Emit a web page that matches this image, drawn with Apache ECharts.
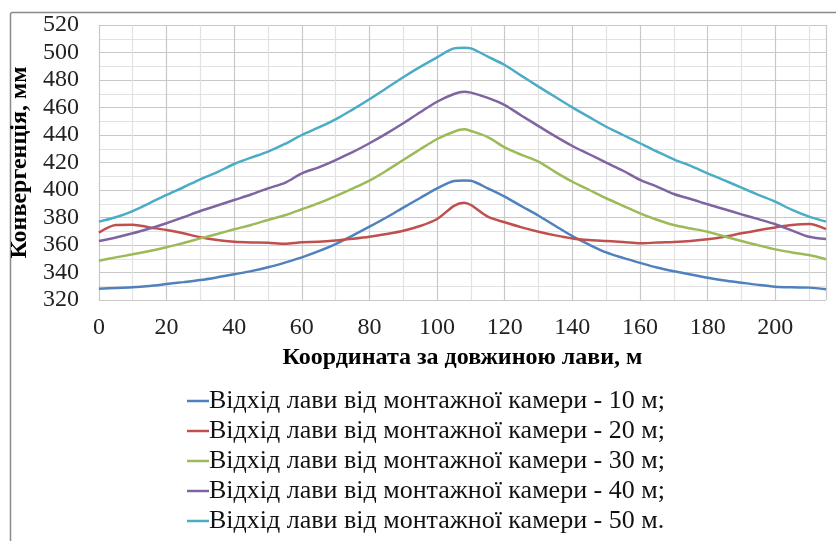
<!DOCTYPE html>
<html>
<head>
<meta charset="utf-8">
<script src="https://cdn.jsdelivr.net/npm/echarts@6/dist/echarts.min.js"></script>
<style>
  html, body { margin: 0; padding: 0; background: #fff; }
  #chart { width: 836px; height: 541px; }
</style>
</head>
<body>
<div id="chart"></div>
<script>
// Position along the face, m
const xCoord = [0, 5, 10, 15, 20, 25, 30, 35, 40, 45, 50, 55, 60, 65, 70, 75, 80, 85, 90, 95, 100, 105, 108, 110, 115, 120, 125, 130, 135, 140, 145, 150, 155, 160, 165, 170, 175, 180, 185, 190, 195, 200, 205, 210, 215];

// Convergence, mm, for each face advance from the set-up room
const conv10 = [328.2, 328.8, 329.2, 330.2, 331.6, 333, 334.5, 336.5, 338.7, 341, 343.8, 347.2, 351, 355.5, 360.7, 366.8, 373.3, 380, 387.2, 394.2, 401.2, 406.6, 407, 406.7, 401.2, 395.2, 388.2, 381.3, 373.8, 366.5, 360.2, 354.6, 350.6, 347, 343.6, 340.9, 338.6, 336.2, 334.2, 332.6, 331, 329.7, 329.2, 329, 327.8];
const conv20 = [369, 374.5, 374.8, 372.8, 370.9, 368.5, 365.6, 363.6, 362.4, 361.9, 361.7, 360.9, 362, 362.3, 363.2, 364.5, 366, 368, 370.4, 373.8, 378.9, 388.5, 390.8, 389.1, 380.6, 376.5, 372.8, 369.7, 367, 364.8, 363.6, 362.9, 362.2, 361.2, 361.8, 362.2, 362.9, 364.1, 366, 368.5, 370.8, 372.8, 374.5, 375.3, 371.6];
const conv30 = [348.6, 351, 353.2, 355.6, 358.3, 361.5, 364.8, 368, 371.4, 374.6, 378.2, 381.6, 386, 390.5, 395.6, 401, 406.8, 414, 421.8, 429.6, 437.1, 442.4, 444.1, 442.9, 438.5, 431, 425.5, 420.6, 413, 406, 400, 394, 388.5, 383, 378.4, 374.5, 372, 369.7, 366.2, 362.9, 359.8, 356.8, 354.6, 352.7, 349.6];
const conv40 = [362.9, 365.5, 368.5, 372, 375.8, 380.2, 384.7, 388.7, 392.7, 396.7, 401.2, 405.2, 412.1, 416.5, 421.8, 427.5, 434, 441, 448.5, 456.5, 464.2, 469.8, 471.5, 470.8, 467, 461.8, 454, 446.5, 439, 432, 426, 419.9, 414, 407.3, 402.5, 397.1, 393.5, 389.6, 386, 382.3, 378.8, 375.1, 370.5, 366, 364.4];
const conv50 = [377, 380.2, 384.7, 390.5, 396.4, 402, 407.8, 413, 418.9, 423.5, 427.9, 433.5, 440, 445.5, 451.4, 458.5, 466, 474, 482, 489.5, 496.5, 503, 503.5, 503, 497, 490.9, 483, 475.2, 467.6, 460.1, 453, 446, 440, 434, 428, 422.3, 417.5, 412.1, 407, 401.7, 396.5, 391.5, 385.5, 380.6, 377];

const seriesNames = [
  'Відхід лави від монтажної камери - 10 м;',
  'Відхід лави від монтажної камери - 20 м;',
  'Відхід лави від монтажної камери - 30 м;',
  'Відхід лави від монтажної камери - 40 м;',
  'Відхід лави від монтажної камери - 50 м.'
];
const seriesValues = [conv10, conv20, conv30, conv40, conv50];
const colors = ['#4F81BD', '#C0504D', '#9BBB59', '#8064A2', '#4BACC6'];

const xAxisTitle = 'Координата за довжиною лави, м';
const yAxisTitle = 'Конвергенція, мм';

const FONT = '"Liberation Serif", "Times New Roman", serif';

const chart = echarts.init(document.getElementById('chart'), null, { renderer: 'canvas' });

chart.setOption({
  animation: false,
  backgroundColor: '#fff',
  color: colors,
  graphic: [{
    type: 'rect',
    left: 8, top: 10,
    shape: { width: 900, height: 600, r: 2 },
    style: { fill: 'none', stroke: '#8a8a8a', lineWidth: 1.5 },
    silent: true
  }],
  grid: { left: 96, top: 25, right: 10, bottom: 241, containLabel: false },
  xAxis: {
    type: 'value',
    min: 0, max: 215, interval: 20,
    name: xAxisTitle,
    nameLocation: 'middle',
    nameGap: 46,
    nameTextStyle: { fontFamily: FONT, fontWeight: 'bold', fontSize: 24, color: '#000' },
    axisLine: { show: false },
    axisTick: { show: false },
    axisLabel: { fontFamily: FONT, fontSize: 24, color: '#222', margin: 16, showMaxLabel: false },
    splitLine: { show: true, lineStyle: { color: '#c8c8c8', width: 1.2 } },
    minorTick: { show: false, splitNumber: 2 },
    minorSplitLine: { show: true, lineStyle: { color: '#e2e2e2', width: 1.2 } }
  },
  yAxis: {
    type: 'value',
    min: 320, max: 520, interval: 20,
    name: yAxisTitle,
    nameLocation: 'middle',
    nameGap: 58,
    nameTextStyle: { fontFamily: FONT, fontWeight: 'bold', fontSize: 24, color: '#000' },
    axisLine: { show: false },
    axisTick: { show: false },
    axisLabel: { fontFamily: FONT, fontSize: 24, color: '#222', margin: 20 },
    splitLine: { show: true, lineStyle: { color: '#c8c8c8', width: 1.2 } },
    minorTick: { show: false, splitNumber: 2 },
    minorSplitLine: { show: true, lineStyle: { color: '#e2e2e2', width: 1.2 } }
  },
  legend: {
    orient: 'vertical',
    left: 187, top: 388,
    padding: 0,
    itemWidth: 22, itemHeight: 2.5, itemGap: 4,
    icon: 'rect',
    textStyle: { fontFamily: FONT, fontSize: 26, color: '#111', padding: [0, 0, 0, -5] },
    data: seriesNames
  },
  series: seriesValues.map((vals, i) => ({
    name: seriesNames[i],
    type: 'line',
    data: xCoord.map((x, j) => [x, vals[j]]),
    smooth: 0.3,
    showSymbol: false,
    lineStyle: { width: 2.5, color: colors[i] },
    itemStyle: { color: colors[i] }
  }))
});
</script>
</body>
</html>
